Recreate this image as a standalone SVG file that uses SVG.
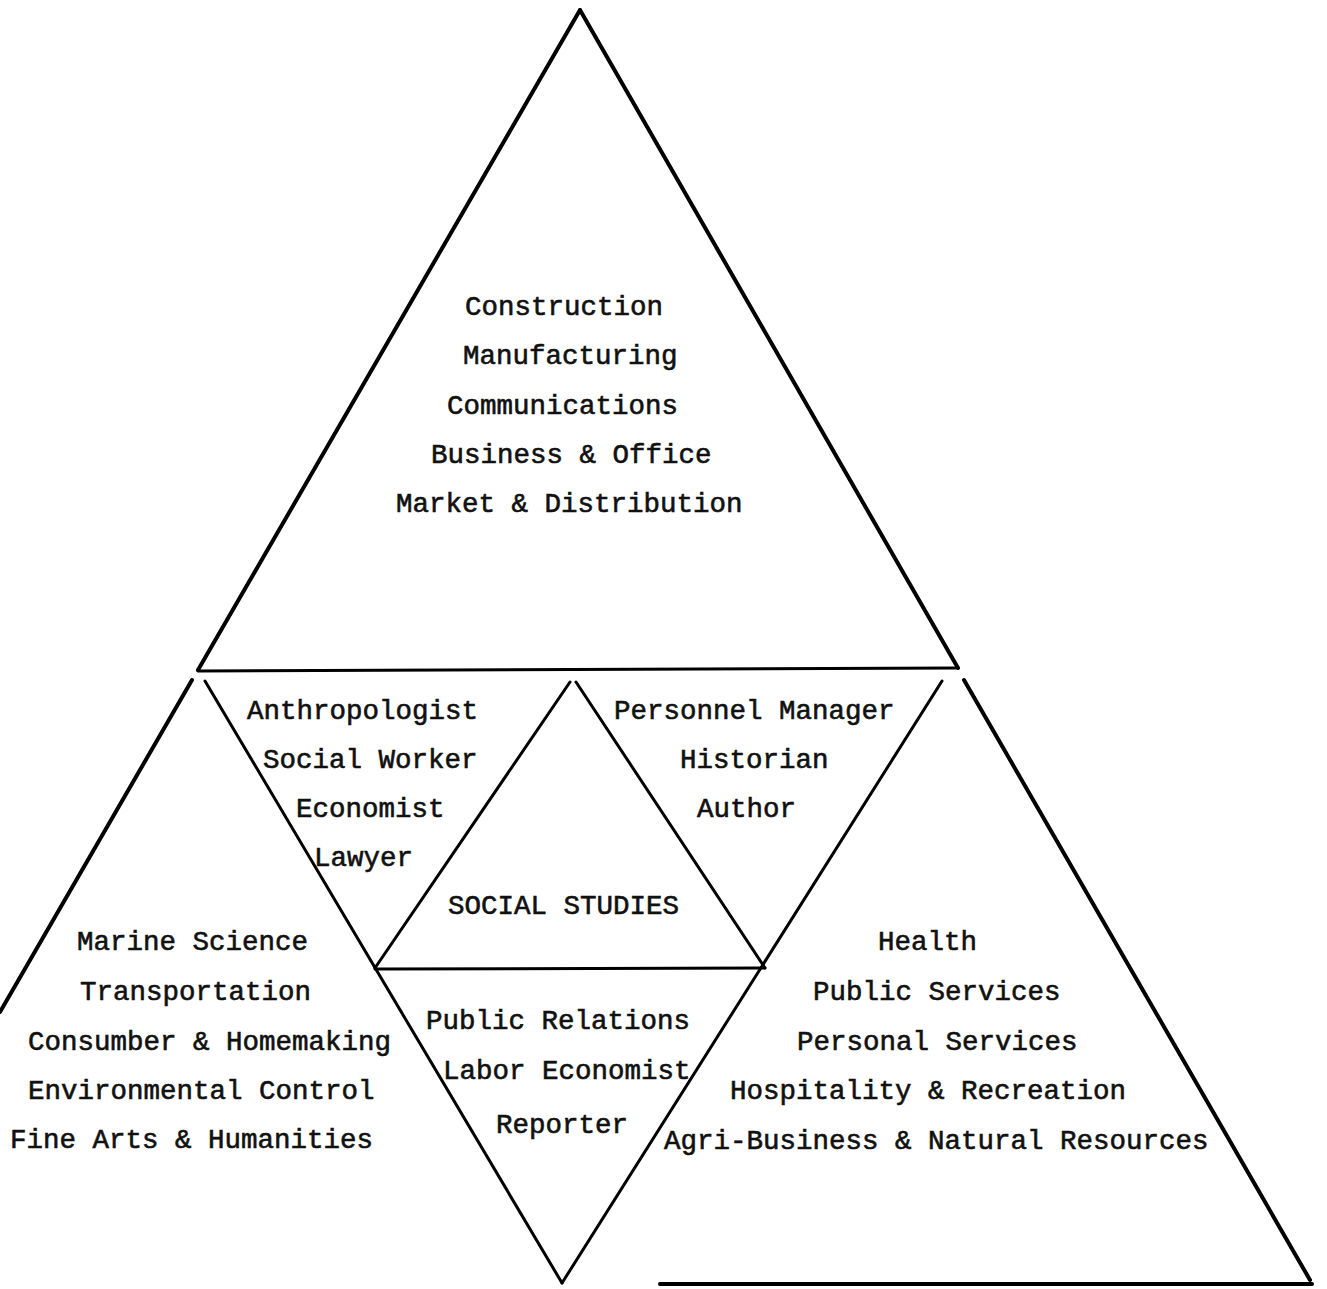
<svg xmlns="http://www.w3.org/2000/svg" width="1327" height="1289" viewBox="0 0 1327 1289">
  <style>
    .edge { stroke: #000; fill: none; stroke-linecap: round; }
    .outer { stroke-width: 4; }
    .inner { stroke-width: 3; }
    text { font-family: "Liberation Mono", "Courier New", monospace; font-size: 27.5px; fill: #111; stroke: #111; stroke-width: 0.6; }
  </style>
  <rect width="1327" height="1289" fill="#fff"/>

  <!-- triangle edges -->
  <g id="connectors">
    <!-- outer triangle sides -->
    <line class="edge outer" x1="580" y1="10" x2="198" y2="670"/>
    <line class="edge outer" x1="192" y1="680" x2="0" y2="1012"/>
    <line class="edge outer" x1="580" y1="10" x2="958" y2="668"/>
    <line class="edge outer" x1="964" y1="680" x2="1310" y2="1280"/>
    <!-- base of the top triangle -->
    <line class="edge inner" x1="198" y1="671" x2="958" y2="668"/>
    <!-- inner diagonals -->
    <line class="edge inner" x1="205" y1="681" x2="562" y2="1283"/>
    <line class="edge inner" x1="942" y1="681" x2="562" y2="1283"/>
    <!-- central triangle -->
    <line class="edge inner" x1="570" y1="682" x2="375" y2="968"/>
    <line class="edge inner" x1="576" y1="682" x2="765" y2="968"/>
    <line class="edge inner" x1="375" y1="969" x2="765" y2="968"/>
    <!-- base of the right triangle -->
    <line class="edge outer" x1="660" y1="1284" x2="1312" y2="1284"/>
  </g>

  <g id="top">
    <text x="465" y="315">Construction</text>
    <text x="463" y="364">Manufacturing</text>
    <text x="447" y="414">Communications</text>
    <text x="431" y="463">Business &amp; Office</text>
    <text x="396" y="512">Market &amp; Distribution</text>
  </g>

  <g id="upper-left">
    <text x="247" y="719">Anthropologist</text>
    <text x="263" y="768">Social Worker</text>
    <text x="296" y="817">Economist</text>
    <text x="314" y="866">Lawyer</text>
  </g>

  <g id="upper-right">
    <text x="614" y="719">Personnel Manager</text>
    <text x="680" y="768">Historian</text>
    <text x="697" y="817">Author</text>
  </g>

  <g id="center">
    <text x="448" y="914">SOCIAL STUDIES</text>
  </g>

  <g id="lower-middle">
    <text x="426" y="1029">Public Relations</text>
    <text x="443" y="1079">Labor Economist</text>
    <text x="496" y="1133">Reporter</text>
  </g>

  <g id="left">
    <text x="77" y="950">Marine Science</text>
    <text x="80" y="1000">Transportation</text>
    <text x="28" y="1050">Consumber &amp; Homemaking</text>
    <text x="28" y="1099">Environmental Control</text>
    <text x="10" y="1148">Fine Arts &amp; Humanities</text>
  </g>

  <g id="right">
    <text x="878" y="950">Health</text>
    <text x="813" y="1000">Public Services</text>
    <text x="797" y="1050">Personal Services</text>
    <text x="730" y="1099">Hospitality &amp; Recreation</text>
    <text x="664" y="1149">Agri-Business &amp; Natural Resources</text>
  </g>
</svg>
